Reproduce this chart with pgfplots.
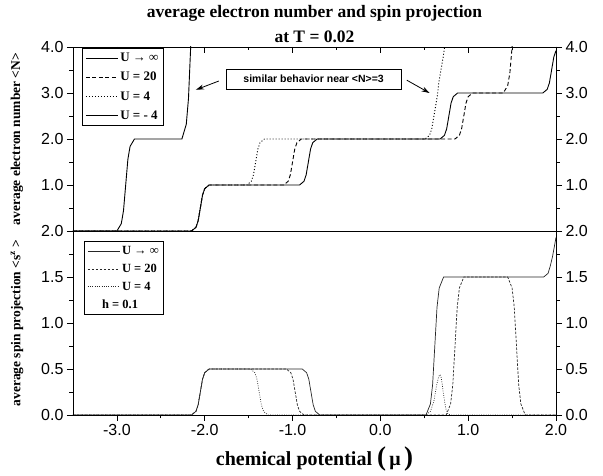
\documentclass[border=0pt]{standalone}
\usepackage{fontspec}
\setmainfont{Liberation Serif}
\newfontfamily\arial{Liberation Sans}
\usepackage{pgfplots}
\pgfplotsset{compat=1.18}
\usetikzlibrary{arrows.meta}

\pgfplotsset{
  panel/.style={
    scale only axis, width=483pt, height=184pt,
    xmin=-3.5, xmax=2,
    axis line style={line width=0.9pt},
    tick style={black, line width=0.8pt},
    major tick length=6pt, minor tick length=3.5pt,
    tick align=outside,
    ticklabel style={font=\arial\fontsize{16}{16}\selectfont,
      /pgf/number format/fixed, /pgf/number format/fixed zerofill,
      /pgf/number format/precision=1, /pgf/number format/assume math mode=true},
  },
  legend image code/.code={\draw[#1] (0pt,0pt) -- (32pt,0pt);},
}

\begin{document}
\begin{tikzpicture}
\path[use as bounding box] (-73pt,-61pt) rectangle (530pt,415pt);

% ---- lower panel: spin projection
\begin{axis}[panel, at={(0pt,0pt)},
  ymin=0, ymax=2, ytick={0,0.5,1,1.5,2}, minor y tick num=1,
  xtick={-3,-2,-1,0,1,2}, minor x tick num=1,
  xtick pos=left, ytick pos=both, yticklabel pos=left,
  xlabel={chemical potential {\fontsize{27}{27}\selectfont(}\,μ\,{\fontsize{27}{27}\selectfont)}},
  xlabel style={at={(axis description cs:0.5,0)}, anchor=base, yshift=-51pt,
    font=\bfseries\fontsize{20}{24}\selectfont},
  ylabel={average spin projection <s\textsuperscript{z} >},
  ylabel style={at={(axis description cs:-0.116,0.5)}, anchor=center,
    font=\bfseries\fontsize{13.5}{16}\selectfont},
  legend style={at={(axis description cs:0.0228,0.946)}, anchor=north west,
    draw=black, line width=0.8pt, inner sep=3pt, row sep=4pt,
    font=\bfseries\fontsize{12.5}{14}\selectfont},
  legend cell align=left,
]
\addplot[black!85, line width=0.7pt] coordinates {
  (-3.5,0)(-2.15,0)(-2.10,0.04)(-2.075,0.11)(-2.05,0.25)(-2.025,0.39)(-2.0,0.46)(-1.95,0.5)
  (-0.89,0.5)(-0.84,0.46)(-0.815,0.39)(-0.79,0.25)(-0.765,0.11)(-0.74,0.04)(-0.69,0)
  (0.52,0)(0.57,0.12)(0.595,0.33)(0.62,0.75)(0.645,1.17)(0.67,1.38)(0.72,1.5)
  (1.86,1.5)(1.91,1.54)(1.935,1.62)(1.96,1.72)(1.985,1.85)(2.0,1.93)
};
\addlegendentry{U → ∞}
\addplot[black!85, line width=0.7pt, dash pattern=on 2.5pt off 1.5pt] coordinates {
  (-3.5,0)(-2.15,0)(-2.10,0.04)(-2.075,0.11)(-2.05,0.25)(-2.025,0.39)(-2.0,0.46)(-1.95,0.5)
  (-1.07,0.5)(-1.02,0.46)(-0.995,0.39)(-0.97,0.25)(-0.945,0.11)(-0.92,0.04)(-0.87,0)
  (0.75,0)(0.80,0.12)(0.825,0.33)(0.85,0.75)(0.875,1.17)(0.90,1.38)(0.95,1.5)
  (1.45,1.5)(1.50,1.38)(1.525,1.17)(1.55,0.75)(1.575,0.33)(1.60,0.12)(1.65,0)(2.0,0)
};
\addlegendentry{U = 20}
\addplot[black!85, line width=0.7pt, dash pattern=on 0.8pt off 1.5pt] coordinates {
  (-3.5,0)(-2.15,0)(-2.10,0.04)(-2.075,0.11)(-2.05,0.25)(-2.025,0.39)(-2.0,0.46)(-1.95,0.5)
  (-1.48,0.5)(-1.43,0.46)(-1.405,0.39)(-1.38,0.25)(-1.355,0.11)(-1.33,0.04)(-1.28,0)
  (0.52,0)(0.57,0.04)(0.61,0.15)(0.64,0.32)(0.665,0.42)(0.68,0.44)(0.695,0.40)
  (0.72,0.22)(0.745,0.07)(0.77,0.01)(0.80,0)(2.0,0)
};
\addlegendentry{U = 4}
\addlegendimage{empty legend}
\addlegendentry{\hspace*{-20pt}h = 0.1}
\end{axis}

\begin{axis}[panel, at={(0pt,0pt)}, hide x axis,
  ymin=0, ymax=2, ytick={0,0.5,1,1.5,2}, minor y tick num=1,
  ytick pos=right, yticklabel pos=right]
\end{axis}

% ---- upper panel: electron number
\begin{axis}[panel, at={(0pt,184pt)},
  ymin=0, ymax=4, ytick=\empty,
  xtick={-3,-2,-1,0,1,2}, minor x tick num=1,
  xtick pos=right, tick align=inside, xticklabels={},
  ylabel={average electron number <N>},
  ylabel style={at={(axis description cs:-0.116,0.5)}, anchor=center,
    font=\bfseries\fontsize{13.5}{16}\selectfont},
  legend style={at={(axis description cs:0.0186,0.995)}, anchor=north west,
    draw=black, line width=0.8pt, inner sep=3pt, row sep=5pt,
    font=\bfseries\fontsize{13}{15}\selectfont},
  legend cell align=left,
]
\addplot[black, line width=0.9pt] coordinates {
  (-3.5,0)(-2.15,0)(-2.10,0.08)(-2.075,0.22)(-2.05,0.5)(-2.025,0.78)(-2.0,0.92)(-1.95,1)
  (-0.92,1)(-0.87,1.08)(-0.845,1.22)(-0.82,1.5)(-0.795,1.78)(-0.77,1.92)(-0.72,2)
  (0.68,2)(0.73,2.08)(0.755,2.22)(0.78,2.5)(0.805,2.78)(0.83,2.92)(0.88,3)
  (1.85,3)(1.90,3.08)(1.925,3.22)(1.95,3.5)(1.975,3.78)(2.0,3.92)
};
\addlegendentry{U → ∞}
\addplot[black, line width=0.9pt, dash pattern=on 4pt off 2.5pt] coordinates {
  (-3.5,0)(-2.15,0)(-2.10,0.08)(-2.075,0.22)(-2.05,0.5)(-2.025,0.78)(-2.0,0.92)(-1.95,1)
  (-1.1,1)(-1.05,1.08)(-1.025,1.22)(-1.0,1.5)(-0.975,1.78)(-0.95,1.92)(-0.9,2)
  (0.85,2)(0.90,2.08)(0.925,2.22)(0.95,2.5)(0.975,2.78)(1.0,2.92)(1.05,3)
  (1.40,3)(1.45,3.16)(1.475,3.44)(1.5,4)(1.525,4.56)
};
\addlegendentry{U = 20}
\addplot[black, line width=0.9pt, dash pattern=on 1pt off 2pt] coordinates {
  (-3.5,0)(-2.15,0)(-2.10,0.08)(-2.075,0.22)(-2.05,0.5)(-2.025,0.78)(-2.0,0.92)(-1.95,1)
  (-1.52,1)(-1.47,1.08)(-1.445,1.22)(-1.42,1.5)(-1.395,1.78)(-1.37,1.92)(-1.32,2)
  (0.51,2)(0.56,2.08)(0.585,2.22)(0.61,2.5)(0.635,2.78)(0.65,2.95)(0.665,3.22)
  (0.69,3.5)(0.715,3.78)(0.74,4.1)
};
\addlegendentry{U = 4}
\addplot[black, line width=0.9pt] coordinates {
  (-3.5,0)(-3.0,0)(-2.95,0.16)(-2.925,0.44)(-2.9,1)(-2.875,1.56)(-2.85,1.84)(-2.8,2)
  (-2.26,2)(-2.21,2.32)(-2.185,2.88)(-2.16,4)(-2.135,5.12)
};
\addlegendentry{U = - 4}
\node[draw, line width=0.8pt, font=\arial\bfseries\fontsize{10.5}{12}\selectfont,
  minimum width=175pt, minimum height=20pt, inner sep=2pt]
  at (axis cs:-0.76,3.30) {similar behavior near <N>=3};
\draw[-{Stealth[length=8pt,width=5pt]}, line width=0.8pt]
  (axis cs:-1.84,3.26) -- (axis cs:-2.10,3.07);
\draw[-{Stealth[length=8pt,width=5pt]}, line width=0.8pt]
  (axis cs:0.30,3.28) -- (axis cs:0.56,3.0);
\end{axis}

\begin{axis}[panel, at={(0pt,184pt)}, hide x axis,
  ymin=0, ymax=4, ytick={1,2,3,4}, minor ytick={0.5,1.5,2.5,3.5},
  ytick pos=both, yticklabel pos=left]
\end{axis}
\begin{axis}[panel, at={(0pt,184pt)}, hide x axis,
  ymin=0, ymax=4, ytick={1,2,3,4}, minor ytick={0.5,1.5,2.5,3.5},
  ytick pos=right, yticklabel pos=right]
\end{axis}

% ---- title
\node[anchor=base, font=\bfseries\fontsize{17.5}{20}\selectfont] at (241.5pt,397pt)
  {average electron number and spin projection};
\node[anchor=base, font=\bfseries\fontsize{17.5}{20}\selectfont] at (241.5pt,372pt)
  {at T = 0.02};
\end{tikzpicture}
\end{document}
